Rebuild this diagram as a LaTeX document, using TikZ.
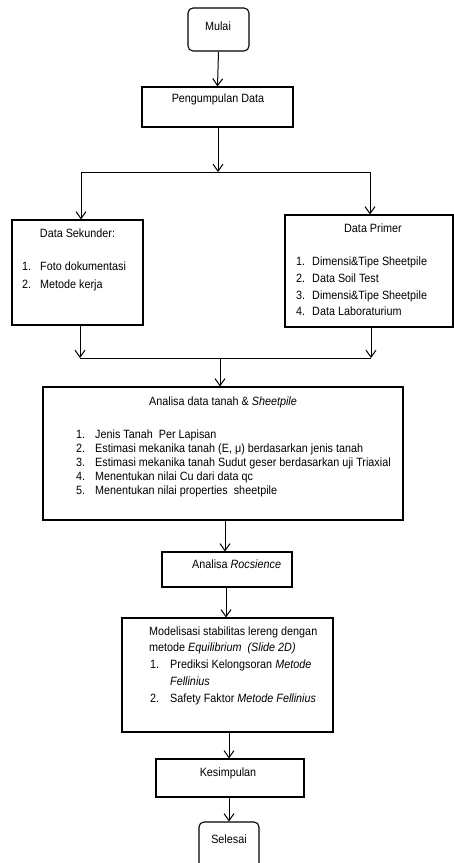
\documentclass[tikz,border=0pt]{standalone}
\usepackage{fontspec}
\setmainfont{Liberation Sans}[FakeStretch=0.9]
\usetikzlibrary{arrows.meta}
\begin{document}
\begin{tikzpicture}[x=1pt,y=-1pt,
  box/.style={draw, line width=1.1pt, inner sep=0pt},
  rbox/.style={box, rounded corners=5pt},
  txt/.style={inner sep=0pt, font=\fontsize{12}{14}\selectfont, text height=8.6pt, text depth=2.4pt},
  arr/.style={line width=1pt, -{Straight Barb[length=7pt,width=10pt,line width=1pt]}},
  ln/.style={line width=1pt}]
\useasboundingbox (0,0) rectangle (454,863);
\clip (0,0) rectangle (454,863);
% boxes
\node[rbox, minimum width=61pt, minimum height=43pt] (mulai) at (218.5,29.5) {};
\node[box, minimum width=151pt, minimum height=40pt] (peng) at (217.5,107) {};
\node[box, minimum width=131pt, minimum height=105pt] (sek) at (77.5,272.5) {};
\node[box, minimum width=168pt, minimum height=112pt] (prim) at (369,271) {};
\node[box, minimum width=360pt, minimum height=133pt] (ana) at (223,453.5) {};
\node[box, minimum width=130pt, minimum height=35pt] (roc) at (227,569.5) {};
\node[box, minimum width=211pt, minimum height=114pt] (mod) at (227.5,675) {};
\node[box, minimum width=148pt, minimum height=38pt] (kes) at (230,778) {};
\node[rbox, minimum width=60pt, minimum height=48pt] (sel) at (229,846) {};
% texts
\node[txt] (tmulai) at (218,27) {Mulai};
\node[txt] (tpeng) at (218,99) {Pengumpulan Data};
\node[txt] (tsek) at (77.5,234) {Data Sekunder:};
\node[txt, anchor=west] (s1n) at (22,267) {1.};
\node[txt, anchor=west] (s1) at (40,267) {Foto dokumentasi};
\node[txt, anchor=west] (s2n) at (22,285) {2.};
\node[txt, anchor=west] (s2) at (40,285) {Metode kerja};
\node[txt] (tprim) at (373,229) {Data Primer};
\node[txt, anchor=west] (p1n) at (296,262) {1.};
\node[txt, anchor=west] (p1) at (312,262) {Dimensi\&Tipe Sheetpile};
\node[txt, anchor=west] (p2n) at (296,279) {2.};
\node[txt, anchor=west] (p2) at (312,279) {Data Soil Test};
\node[txt, anchor=west] (p3n) at (296,296) {3.};
\node[txt, anchor=west] (p3) at (312,296) {Dimensi\&Tipe Sheetpile};
\node[txt, anchor=west] (p4n) at (296,312) {4.};
\node[txt, anchor=west] (p4) at (312,312) {Data Laboraturium};
\node[txt] (tana) at (223,402) {Analisa data tanah \& \textit{Sheetpile}};
\node[txt, anchor=west] (a1n) at (76,435) {1.};
\node[txt, anchor=west] (a1) at (95,435) {Jenis Tanah\ \ Per Lapisan};
\node[txt, anchor=west] (a2n) at (76,449) {2.};
\node[txt, anchor=west] (a2) at (95,449) {Estimasi mekanika tanah (E, μ) berdasarkan jenis tanah};
\node[txt, anchor=west] (a3n) at (76,463) {3.};
\node[txt, anchor=west] (a3) at (95,463) {Estimasi mekanika tanah Sudut geser berdasarkan uji Triaxial};
\node[txt, anchor=west] (a4n) at (76,477) {4.};
\node[txt, anchor=west] (a4) at (95,477) {Menentukan nilai Cu dari data qc};
\node[txt, anchor=west] (a5n) at (76,491) {5.};
\node[txt, anchor=west] (a5) at (95,491) {Menentukan nilai properties\ \ sheetpile};
\node[txt, anchor=west] (troc) at (192,565) {Analisa \textit{Rocsience}};
\node[txt, anchor=west] (m0) at (149,632) {Modelisasi stabilitas lereng dengan};
\node[txt, anchor=west] (m00) at (149,648) {metode \textit{Equilibrium}\ \ \textit{(Slide 2D)}};
\node[txt, anchor=west] (m1n) at (150,665) {1.};
\node[txt, anchor=west] (m1) at (170,665) {Prediksi Kelongsoran \textit{Metode}};
\node[txt, anchor=west] (m1b) at (170,682) {\textit{Fellinius}};
\node[txt, anchor=west] (m2n) at (150,699) {2.};
\node[txt, anchor=west] (m2) at (170,699) {Safety Faktor \textit{Metode Fellinius}};
\node[txt] (tkes) at (228,773) {Kesimpulan};
\node[txt] (tsel) at (229,840) {Selesai};
% connectors
\coordinate (split) at (218,172);
\coordinate (splitL) at (81,172);
\coordinate (splitR) at (370,172);
\coordinate (joinL) at (80,358);
\coordinate (joinR) at (371,358);
\coordinate (join) at (220,358);
\draw[arr] (mulai.south) -- (peng.north);
\draw[arr] (peng.south -| split) -- (split);
\draw[ln] (splitL) -- (splitR);
\draw[arr] (splitL) -- (splitL |- sek.north);
\draw[arr] (splitR) -- (splitR |- prim.north);
\draw[arr] (joinL |- sek.south) -- (joinL);
\draw[arr] (joinR |- prim.south) -- (joinR);
\draw[ln] (joinL) -- (joinR);
\draw[arr] (join) -- (join |- ana.north);
\draw[arr] (ana.south -| 225,0) -- (225,0 |- roc.north);
\draw[arr] (roc.south -| 226,0) -- (226,0 |- mod.north);
\draw[arr] (mod.south -| 229,0) -- (229,0 |- kes.north);
\draw[arr] (kes.south -| 229,0) -- (229,0 |- sel.north);
\end{tikzpicture}
\end{document}
